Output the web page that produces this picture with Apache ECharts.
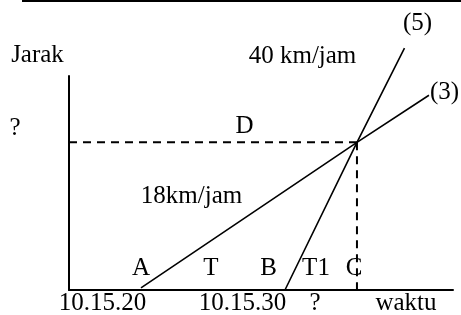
<!DOCTYPE html>
<html>
<head>
<meta charset="utf-8">
<script src="https://cdn.jsdelivr.net/npm/echarts@6/dist/echarts.min.js"></script>
<style>
  html, body { margin: 0; padding: 0; background: #fff; }
  #chart { width: 461px; height: 315px; }
</style>
</head>
<body>
<div id="chart"></div>
<script>
// time in seconds after 10.15.00, distance in arbitrary units
var slowLine = [[20, 1], [35, 69], [40, 91]];      // 18 km/jam, line (3)
var fastLine = [[30, 0], [35, 69], [38.3, 113]];   // 40 km/jam, line (5)
var meetPoint = [35, 69];                          // D / C
var timeLabels = ['10.15.20', '10.15.30', '?'];
var pointNames = ['A', 'T', 'B', 'T1', 'C'];

var FONT = '25px "Liberation Serif", "Times New Roman", serif';

function txt(text, x, y, align) {
    return {
        type: 'text',
        silent: true,
        style: {
            text: text, x: x, y: y, font: FONT, fill: '#000',
            align: align || 'center', textAlign: align || 'center',
            verticalAlign: 'middle', textVerticalAlign: 'middle'
        }
    };
}

var myChart = echarts.init(document.getElementById('chart'));
var option;

option = {
    animation: false,
    backgroundColor: '#fff',
    grid: { left: 69, right: 8, top: 76, bottom: 25 },
    xAxis: {
        type: 'value', min: 15, max: 41.67,
        axisLine: { lineStyle: { color: '#000', width: 2 } },
        axisTick: { show: false },
        axisLabel: { show: false },
        splitLine: { show: false }
    },
    yAxis: {
        type: 'value', min: 0, max: 100,
        axisLine: { show: true, lineStyle: { color: '#000', width: 2 } },
        axisTick: { show: false },
        axisLabel: { show: false },
        splitLine: { show: false }
    },
    series: [{
        type: 'line', data: slowLine, symbol: 'none', clip: false, silent: true,
        lineStyle: { color: '#000', width: 1.6 }
    }, {
        type: 'line', data: fastLine, symbol: 'none', clip: false, silent: true,
        lineStyle: { color: '#000', width: 1.6 }
    }, {
        type: 'line', data: [[15, meetPoint[1]], meetPoint], symbol: 'none', silent: true,
        lineStyle: { color: '#000', width: 2, type: [8, 6] }
    }, {
        type: 'line', data: [meetPoint, [meetPoint[0], 0]], symbol: 'none', silent: true,
        lineStyle: { color: '#000', width: 2, type: [8, 6] }
    }],
    graphic: [
        { type: 'line', silent: true, shape: { x1: 22, y1: 1, x2: 461, y2: 1 },
          style: { stroke: '#000', lineWidth: 2 } },
        txt('Jarak', 37.5, 55),
        txt('40 km/jam', 302.5, 56.5),
        txt('(5)', 417.5, 23),
        txt('(3)', 430, 92.5, 'left'),
        txt('?', 15, 128),
        txt('D', 244.5, 126.5),
        txt('18km/jam', 191.5, 196.5),
        txt(pointNames[0], 141, 268.5),
        txt(pointNames[1], 211, 268.5),
        txt(pointNames[2], 268.5, 268.5),
        txt(pointNames[3], 316, 268.5),
        txt(pointNames[4], 354, 268.5),
        txt(timeLabels[0], 102.5, 303.5),
        txt(timeLabels[1], 242.5, 303.5),
        txt(timeLabels[2], 315, 303.5),
        txt('waktu', 406, 303.5)
    ]
};

option && myChart.setOption(option);
</script>
</body>
</html>
